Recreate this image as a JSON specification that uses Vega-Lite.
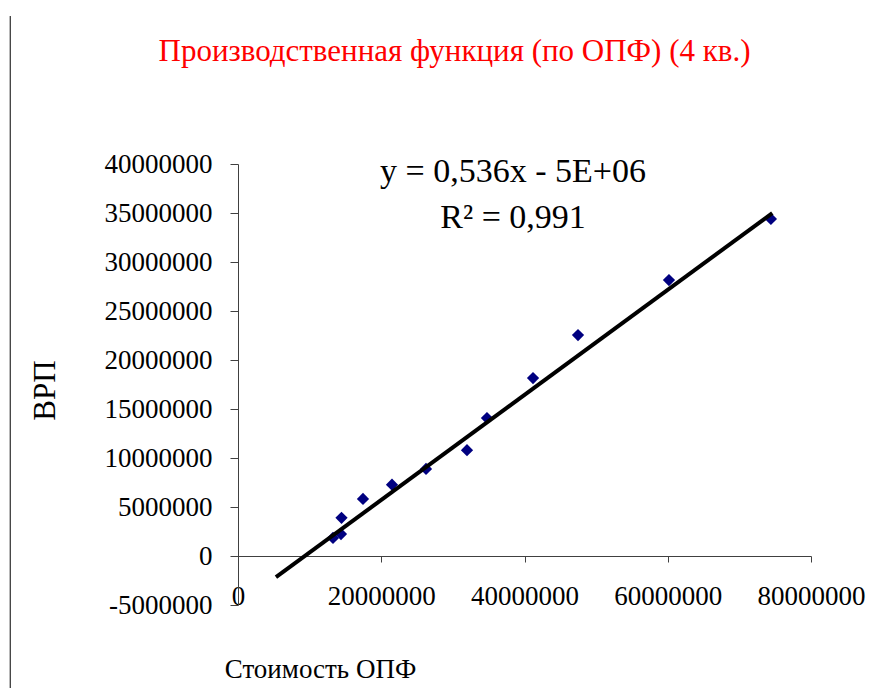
{
  "$schema": "https://vega.github.io/schema/vega-lite/v6.json",
  "autosize": {"type": "none"},
  "width": 573,
  "height": 441,
  "padding": {"left": 238, "top": 164, "right": 73, "bottom": 83},
  "background": "white",
  "config": {"view": {"stroke": null}, "font": "Liberation Serif"},
  "title": {
    "text": "Производственная функция (по ОПФ) (4 кв.)",
    "color": "#ff0000",
    "font": "Liberation Serif",
    "fontSize": 31,
    "fontWeight": "normal",
    "anchor": "middle",
    "frame": "group",
    "dx": -70,
    "offset": -52
  },
  "datasets": {
    "points": [
      {"opf": 13260000, "vrp": 1840000},
      {"opf": 14380000, "vrp": 2240000},
      {"opf": 14450000, "vrp": 3900000},
      {"opf": 17450000, "vrp": 5820000},
      {"opf": 21500000, "vrp": 7280000},
      {"opf": 26250000, "vrp": 8880000},
      {"opf": 31970000, "vrp": 10800000},
      {"opf": 34760000, "vrp": 14080000},
      {"opf": 41190000, "vrp": 18160000},
      {"opf": 47470000, "vrp": 22550000},
      {"opf": 60170000, "vrp": 28160000},
      {"opf": 74400000, "vrp": 34390000}
    ],
    "trend": [
      {"opf": 5300000, "vrp": -2160000},
      {"opf": 74600000, "vrp": 34990000}
    ],
    "labels": [
      {"opf": 38400000, "vrp": 39180000, "label": "y = 0,536x - 5E+06"},
      {"opf": 38400000, "vrp": 34490000, "label": "R² = 0,991"}
    ]
  },
  "layer": [
    {
      "data": {"name": "points"},
      "mark": {"type": "point", "shape": "diamond", "filled": true, "color": "#000080", "opacity": 1, "size": 150},
      "encoding": {
        "x": {
          "field": "opf", "type": "quantitative",
          "scale": {"domain": [0, 80000000], "nice": false, "zero": false},
          "axis": {
            "orient": "bottom",
            "offset": -49,
            "values": [0, 20000000, 40000000, 60000000, 80000000],
            "format": "d",
            "grid": false,
            "domainColor": "#404040",
            "tickColor": "#404040",
            "tickSize": 6,
            "labelFont": "Liberation Serif",
            "labelFontSize": 27,
            "labelColor": "#000000",
            "labelBaseline": "middle",
            "labelPadding": 34,
            "labelFlush": false,
            "labelOverlap": false,
            "title": "Стоимость ОПФ",
            "titleFont": "Liberation Serif",
            "titleFontSize": 27,
            "titleFontWeight": "normal",
            "titleColor": "#000000",
            "titleX": 82,
            "titleY": 113,
            "titleAlign": "center",
            "titleBaseline": "middle"
          }
        },
        "y": {
          "field": "vrp", "type": "quantitative",
          "scale": {"domain": [-5000000, 40000000], "nice": false, "zero": false},
          "axis": {
            "values": [-5000000, 0, 5000000, 10000000, 15000000, 20000000, 25000000, 30000000, 35000000, 40000000],
            "format": "d",
            "labelExpr": "replace(datum.label, '−', '-')",
            "grid": false,
            "domainColor": "#404040",
            "tickColor": "#404040",
            "tickSize": 8,
            "labelFont": "Liberation Serif",
            "labelFontSize": 27,
            "labelColor": "#000000",
            "labelPadding": 18,
            "labelFlush": false,
            "labelOverlap": false,
            "title": "ВРП",
            "titleFont": "Liberation Serif",
            "titleFontSize": 31,
            "titleFontWeight": "normal",
            "titleColor": "#000000",
            "titleAngle": -90,
            "titleX": -193,
            "titleY": 226,
            "titleAlign": "center",
            "titleBaseline": "middle"
          }
        }
      }
    },
    {
      "data": {"name": "trend"},
      "mark": {"type": "line", "color": "#000000", "strokeWidth": 4},
      "encoding": {
        "x": {"field": "opf", "type": "quantitative"},
        "y": {"field": "vrp", "type": "quantitative"}
      }
    },
    {
      "data": {"name": "labels"},
      "mark": {"type": "text", "font": "Liberation Serif", "fontSize": 34, "color": "#000000", "align": "center", "baseline": "middle"},
      "encoding": {
        "x": {"field": "opf", "type": "quantitative"},
        "y": {"field": "vrp", "type": "quantitative"},
        "text": {"field": "label"}
      }
    },
    {
      "data": {"values": [{}]},
      "mark": {"type": "rule", "color": "#000000", "strokeWidth": 1},
      "encoding": {
        "x": {"datum": -31800000, "type": "quantitative"},
        "y": {"datum": 55100000, "type": "quantitative"},
        "y2": {"datum": -13500000}
      }
    }
  ]
}
